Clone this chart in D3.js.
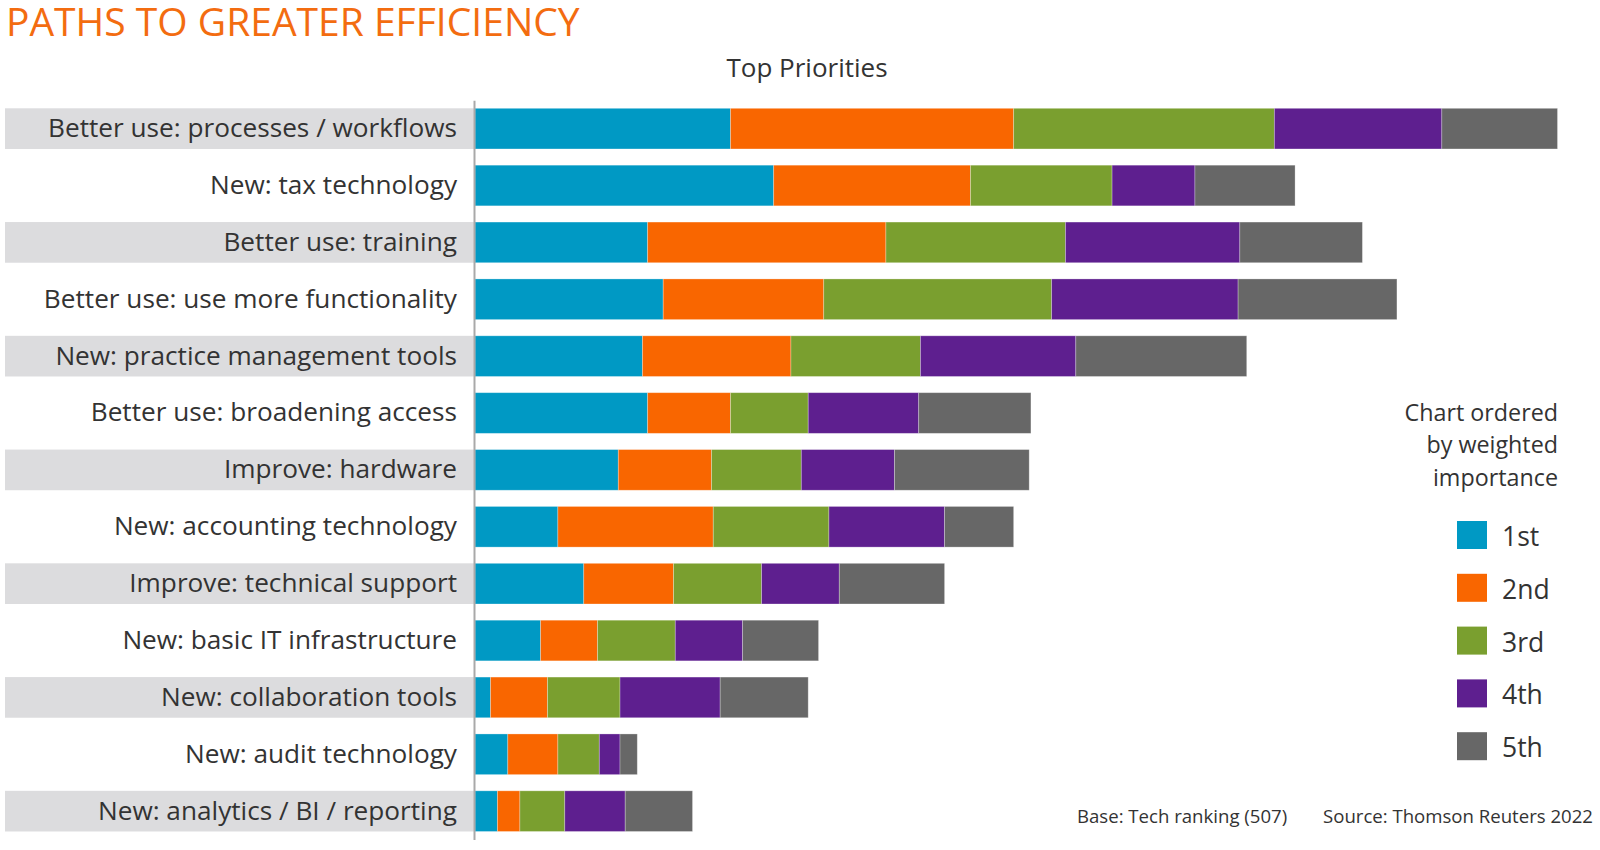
<!DOCTYPE html>
<html><head><meta charset="utf-8">
<script src="https://cdn.jsdelivr.net/npm/d3@7"></script>
<style>
body{margin:0;background:#fff;}
svg{display:block;font-family:"Open Sans",sans-serif;}
</style>
</head><body>
<svg id="chart" width="1600" height="850"></svg>
<script>
// ---- data (share of respondents, %) ----
const categories = [
  "Better use: processes / workflows",
  "New: tax technology",
  "Better use: training",
  "Better use: use more functionality",
  "New: practice management tools",
  "Better use: broadening access",
  "Improve: hardware",
  "New: accounting technology",
  "Improve: technical support",
  "New: basic IT infrastructure",
  "New: collaboration tools",
  "New: audit technology",
  "New: analytics / BI / reporting"
];
const ranks = ["1st", "2nd", "3rd", "4th", "5th"];
const rank1 = [14.8, 17.3, 10.0, 10.9, 9.7, 10.0, 8.3, 4.8, 6.3, 3.8, 0.9, 1.9, 1.3];
const rank2 = [16.4, 11.4, 13.8, 9.3, 8.6, 4.8, 5.4, 9.0, 5.2, 3.3, 3.3, 2.9, 1.3];
const rank3 = [15.1, 8.2, 10.4, 13.2, 7.5, 4.5, 5.2, 6.7, 5.1, 4.5, 4.2, 2.4, 2.6];
const rank4 = [9.7, 4.8, 10.1, 10.8, 9.0, 6.4, 5.4, 6.7, 4.5, 3.9, 5.8, 1.2, 3.5];
const rank5 = [6.7, 5.8, 7.1, 9.2, 9.9, 6.5, 7.8, 4.0, 6.1, 4.4, 5.1, 1.0, 3.9];
const colors = ["#0099c4", "#f96600", "#7a9f2f", "#5e1f8f", "#676767"];

const title = "PATHS TO GREATER EFFICIENCY";
const subtitle = "Top Priorities";
const legendTitle = ["Chart ordered", "by weighted", "importance"];
const baseNote = "Base: Tech ranking (507)";
const sourceNote = "Source: Thomson Reuters 2022";

// ---- build table ----
const series = [rank1, rank2, rank3, rank4, rank5];
const table = categories.map((c, i) => {
  const row = {category: c};
  ranks.forEach((r, k) => row[r] = series[k][i]);
  return row;
});
const stacked = d3.stack().keys(ranks)(table);

const svg = d3.select("#chart");
const x = d3.scaleLinear().domain([0, 62.7]).range([475, 1557.5]);
const y = d3.scaleBand().domain(categories).range([100.2, 839.6])
  .paddingInner(0.285).paddingOuter(0.1425);
const color = d3.scaleOrdinal().domain(ranks).range(colors);

// alternating label backgrounds
svg.append("g").selectAll("rect")
  .data(categories.filter((c, i) => i % 2 === 0))
  .join("rect")
  .attr("x", 5).attr("width", 469)
  .attr("y", d => y(d)).attr("height", y.bandwidth())
  .attr("fill", "#dcdcde");

// bars
svg.append("g").selectAll("g")
  .data(stacked).join("g")
  .attr("fill", d => color(d.key))
  .selectAll("rect")
  .data(d => d).join("rect")
  .attr("x", d => x(d[0]))
  .attr("width", d => x(d[1]) - x(d[0]))
  .attr("y", d => y(d.data.category))
  .attr("height", y.bandwidth())
  .attr("stroke", "rgba(255,255,255,0.35)")
  .attr("stroke-width", 0.8);

// axis with category labels
const ax = svg.append("g").attr("transform", "translate(474,0)")
  .call(d3.axisLeft(y).tickSizeInner(0).tickSizeOuter(0).tickPadding(17));
ax.select(".domain").attr("stroke", "#a9a9a9").attr("stroke-width", 2);
ax.selectAll("text").attr("font-size", 26.2).attr("fill", "#333")
  .attr("font-family", '"Open Sans", sans-serif');

// title
svg.append("text").attr("x", 6).attr("y", 36)
  .attr("font-size", 39).attr("fill", "#f36c10")
  .text(title);
svg.append("text").attr("x", 807).attr("y", 77).attr("text-anchor", "middle")
  .attr("font-size", 26).attr("fill", "#333").text(subtitle);

// legend
const lt = svg.append("g").attr("fill", "#333").attr("font-size", 23.3).attr("text-anchor", "end");
legendTitle.forEach((t, i) => lt.append("text").attr("x", 1558).attr("y", 421 + i * 32.3).text(t));
const lg = svg.append("g").selectAll("g").data(ranks).join("g")
  .attr("transform", (d, i) => `translate(1457,${521 + i * 52.8})`);
lg.append("rect").attr("width", 30).attr("height", 28).attr("fill", d => color(d));
lg.append("text").attr("x", 45).attr("y", 25).attr("font-size", 26.5).attr("fill", "#333").text(d => d);

// footer
svg.append("text").attr("x", 1077).attr("y", 823).attr("font-size", 18.6).attr("fill", "#333").text(baseNote);
svg.append("text").attr("x", 1593).attr("y", 823).attr("text-anchor", "end").attr("font-size", 18.6).attr("fill", "#333").text(sourceNote);
</script>
</body></html>
